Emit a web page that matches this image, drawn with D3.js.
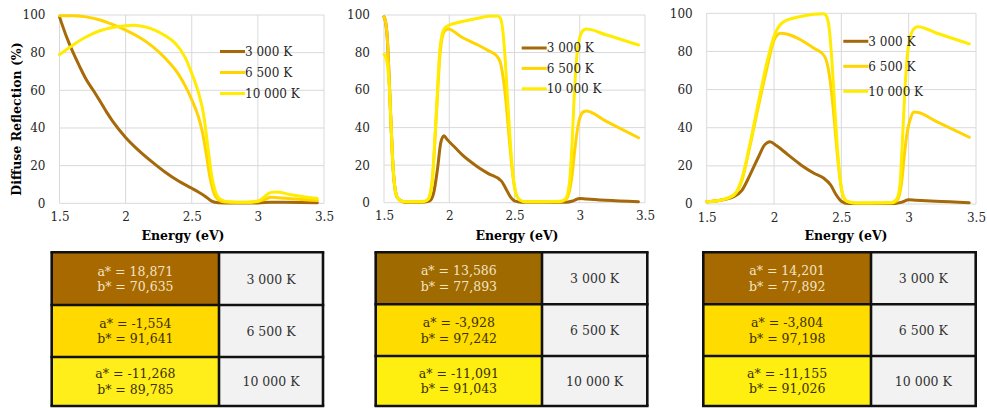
<!DOCTYPE html>
<html>
<head>
<meta charset="utf-8">
<script src="https://cdn.jsdelivr.net/npm/d3@7/dist/d3.min.js"></script>
<style>
  html, body { margin: 0; padding: 0; background: #ffffff; }
  svg { display: block; }
  text { font-family: "DejaVu Serif", serif; }
</style>
</head>
<body>
<svg id="fig" width="987" height="408"></svg>
<script>
// ---- data -------------------------------------------------------------
const energyTicks = [1.5, 2, 2.5, 3, 3.5];
const reflTicks = [0, 20, 40, 60, 80, 100];
const seriesNames = ["3 000 K", "6 500 K", "10 000 K"];

// Panel A: [energy (eV), diffuse reflection (%)]
const panelA_3000K = [[1.5,99],[1.55,89],[1.6,80.5],[1.65,73],[1.7,66],[1.76,59.5],[1.8,55],[1.86,48],[1.9,43.8],[2.0,35],[2.1,28],[2.2,22],[2.3,16.5],[2.4,11.8],[2.5,8],[2.55,6],[2.6,3.8],[2.65,1.2],[2.7,0.3],[2.8,0.1],[3.0,0.2],[3.1,0.6],[3.2,0.5],[3.45,0.3]];
const panelA_6500K = [[1.5,99.6],[1.6,99.6],[1.7,99],[1.8,97.5],[1.9,95],[2.0,92],[2.1,88.3],[2.2,83.5],[2.3,77],[2.4,68.5],[2.45,62.5],[2.5,55],[2.55,46],[2.58,38],[2.61,26],[2.64,13],[2.67,5],[2.7,2],[2.75,0.7],[2.85,0.5],[2.95,0.6],[3.0,1],[3.05,2],[3.1,3.2],[3.15,3],[3.25,2.4],[3.45,1.5]];
const panelA_10000K = [[1.5,79],[1.6,84],[1.7,88.3],[1.8,91.5],[1.9,93.4],[2.0,94.3],[2.06,94.5],[2.15,93.6],[2.22,92],[2.3,89],[2.375,85],[2.45,77.5],[2.5,69],[2.55,59],[2.59,47],[2.62,31],[2.65,15],[2.68,6],[2.72,2],[2.78,0.8],[2.9,0.5],[3.0,1.2],[3.05,3.5],[3.1,5.8],[3.15,6],[3.25,4.5],[3.45,2.5]];

// Panel B
const panelB_3000K = [[1.5,99],[1.51,97],[1.525,88],[1.54,65],[1.555,40],[1.57,18],[1.585,7],[1.6,3],[1.63,1],[1.66,0.3],[1.8,0.3],[1.85,1],[1.88,5],[1.91,18],[1.935,32],[1.96,35.7],[1.98,34],[2.05,29],[2.1,25.5],[2.2,20],[2.3,15.5],[2.4,11.5],[2.43,8],[2.47,3],[2.5,1],[2.55,0.3],[2.9,0.3],[2.95,1],[3.0,2.3],[3.05,2],[3.2,1.3],[3.45,0.5]];
const panelB_6500K = [[1.5,99],[1.51,97],[1.525,88],[1.54,65],[1.555,40],[1.57,18],[1.585,7],[1.6,3],[1.63,1],[1.66,0.5],[1.8,0.5],[1.84,2],[1.87,12],[1.9,45],[1.93,80],[1.96,91],[1.99,92.5],[2.1,88],[2.22,84],[2.3,81],[2.36,78.5],[2.39,75],[2.41,68],[2.43,57],[2.45,42],[2.47,26],[2.49,13],[2.51,5],[2.54,1.5],[2.58,0.5],[2.85,0.5],[2.89,1.5],[2.92,6],[2.94,14],[2.96,27],[2.98,38],[3.0,45],[3.03,48.5],[3.05,48.9],[3.2,43.5],[3.45,34.6]];
const panelB_10000K = [[1.5,79],[1.51,78],[1.525,74],[1.54,62],[1.555,40],[1.57,18],[1.585,7],[1.6,3],[1.63,1],[1.66,0.5],[1.8,0.5],[1.84,2],[1.87,12],[1.9,47],[1.93,83],[1.96,92.5],[1.99,94.3],[2.1,96.5],[2.2,98],[2.3,99.3],[2.37,99.5],[2.39,98.5],[2.41,92],[2.43,75],[2.45,52],[2.47,30],[2.49,14],[2.51,5],[2.54,1.5],[2.58,0.5],[2.85,0.8],[2.89,2],[2.92,10],[2.94,30],[2.96,60],[2.98,80],[3.0,88],[3.03,92],[3.05,92.5],[3.2,89.5],[3.45,84]];

// Panel C
const panelC_3000K = [[1.5,1.2],[1.6,2],[1.7,3.8],[1.76,7],[1.82,15],[1.88,24],[1.93,31],[1.97,32.7],[2.02,30.5],[2.1,26],[2.2,20.5],[2.3,16],[2.37,13.5],[2.42,10],[2.46,5],[2.5,1.5],[2.55,0.3],[2.9,0.3],[2.95,1],[3.0,2.2],[3.05,2],[3.2,1.4],[3.45,0.7]];
const panelC_6500K = [[1.5,1.2],[1.6,2],[1.7,4.5],[1.76,12],[1.82,30],[1.88,50],[1.95,72],[2.0,86],[2.05,89.5],[2.1,89],[2.2,86],[2.3,81.5],[2.37,78],[2.4,72],[2.43,57],[2.45,42],[2.47,26],[2.49,13],[2.51,5],[2.54,1.5],[2.6,0.5],[2.87,0.5],[2.91,1.5],[2.935,6],[2.95,13],[2.97,27],[2.99,38],[3.01,44],[3.04,48.2],[3.07,48],[3.2,43.5],[3.45,35]];
const panelC_10000K = [[1.5,1.2],[1.6,2],[1.7,4.7],[1.76,13],[1.82,31],[1.88,52],[1.95,75],[2.0,88],[2.07,95.5],[2.19,98.2],[2.3,99.5],[2.37,99.8],[2.39,98.5],[2.41,92],[2.43,75],[2.45,52],[2.47,30],[2.49,14],[2.51,5],[2.54,1.5],[2.6,0.5],[2.87,0.8],[2.91,2.5],[2.935,10],[2.95,28],[2.97,57],[2.99,78],[3.01,87],[3.04,92],[3.07,93],[3.2,89.8],[3.45,84]];

// CIELAB a*, b* per colour temperature
const aStarA = ["18,871", "-1,554", "-11,268"];
const bStarA = ["70,635", "91,641", "89,785"];
const aStarB = ["13,586", "-3,928", "-11,091"];
const bStarB = ["77,893", "97,242", "91,043"];
const aStarC = ["14,201", "-3,804", "-11,155"];
const bStarC = ["77,892", "97,198", "91,026"];

// ---- styling / layout -------------------------------------------------
const lineColors = ["#A5690A", "#FFD400", "#FFEC00"];
const gridColor = "#D9D9D9";
const textColor = "#262626";

const panels = [
  { series: [panelA_3000K, panelA_6500K, panelA_10000K], a: aStarA, b: bStarA,
    plot: { x0: 59.5, x1: 324, y0: 15, y1: 203.3 }, xTitleX: 183, showYTitle: true,
    legend: { x: 220, y0: 51.5, dy: 21 },
    table: { x0: 51.7, xm: 219, x1: 323, rows: [252.3, 305, 357, 406] },
    cellFill: ["#A86900", "#FFD900", "#FFEE1A"] },
  { series: [panelB_3000K, panelB_6500K, panelB_10000K], a: aStarB, b: bStarB,
    plot: { x0: 384, x1: 645, y0: 15, y1: 202.7 }, xTitleX: 517, showYTitle: false,
    legend: { x: 521.7, y0: 48, dy: 20.4 },
    table: { x0: 375.7, xm: 542, x1: 647.3, rows: [252.3, 304.3, 356, 406] },
    cellFill: ["#9F6A00", "#FFDC00", "#FFEF10"] },
  { series: [panelC_3000K, panelC_6500K, panelC_10000K], a: aStarC, b: bStarC,
    plot: { x0: 706.7, x1: 976, y0: 13.3, y1: 204 }, xTitleX: 846, showYTitle: false,
    legend: { x: 843.3, y0: 41.3, dy: 25 },
    table: { x0: 703.3, xm: 871, x1: 975.7, rows: [252.3, 304.3, 356, 406] },
    cellFill: ["#A66A00", "#FFDC00", "#FFEF10"] }
];

const svg = d3.select("#fig");

panels.forEach((p) => {
  const x = d3.scaleLinear().domain([1.5, 3.5]).range([p.plot.x0, p.plot.x1]);
  const y = d3.scaleLinear().domain([0, 100]).range([p.plot.y1, p.plot.y0]);
  const g = svg.append("g");

  // gridlines
  g.append("g").selectAll("line.h").data(reflTicks).join("line")
    .attr("x1", p.plot.x0).attr("x2", p.plot.x1)
    .attr("y1", d => y(d)).attr("y2", d => y(d))
    .attr("stroke", gridColor).attr("stroke-width", 1);
  g.append("g").selectAll("line.v").data(energyTicks).join("line")
    .attr("x1", d => x(d)).attr("x2", d => x(d))
    .attr("y1", p.plot.y0).attr("y2", p.plot.y1)
    .attr("stroke", gridColor).attr("stroke-width", 1);

  // y axis labels
  const yAxis = d3.axisLeft(y).tickValues(reflTicks).tickSize(0).tickPadding(14);
  const ya = g.append("g").attr("transform", `translate(${p.plot.x0},0)`).call(yAxis);
  ya.select(".domain").remove();
  ya.selectAll("text").attr("font-family", "DejaVu Serif").attr("font-size", 12)
    .attr("fill", textColor);

  // x axis labels
  const xAxis = d3.axisBottom(x).tickValues(energyTicks).tickSize(0).tickPadding(9)
    .tickFormat(d => String(d));
  const xa = g.append("g").attr("transform", `translate(0,${p.plot.y1})`).call(xAxis);
  xa.select(".domain").remove();
  xa.selectAll("text").attr("font-family", "DejaVu Serif").attr("font-size", 12)
    .attr("fill", textColor);

  // axis titles
  g.append("text").attr("x", p.xTitleX).attr("y", 240).attr("text-anchor", "middle")
    .attr("font-size", 12.5).attr("font-weight", "bold").attr("fill", "#000")
    .text("Energy (eV)");
  if (p.showYTitle) {
    g.append("text").attr("transform", "translate(21,119) rotate(-90)")
      .attr("text-anchor", "middle").attr("font-family", "Liberation Serif")
      .attr("font-size", 12.5).attr("font-weight", "bold")
      .attr("fill", "#000").text("Diffuse Reflection (%)");
  }

  // curves
  const line = d3.line().x(d => x(d[0])).y(d => y(d[1])).curve(d3.curveMonotoneX);
  g.append("g").selectAll("path").data(p.series).join("path")
    .attr("d", line).attr("fill", "none")
    .attr("stroke", (d, i) => lineColors[i]).attr("stroke-width", 3)
    .attr("stroke-linejoin", "round").attr("stroke-linecap", "round");

  // legend
  const lg = g.append("g");
  seriesNames.forEach((name, i) => {
    const ly = p.legend.y0 + i * p.legend.dy;
    lg.append("line").attr("x1", p.legend.x).attr("x2", p.legend.x + 25)
      .attr("y1", ly).attr("y2", ly).attr("stroke", lineColors[i]).attr("stroke-width", 3);
    lg.append("text").attr("x", p.legend.x + 25).attr("y", ly).attr("dy", "0.35em")
      .attr("font-size", 12).attr("fill", textColor).text(name);
  });

  // colour table
  const t = p.table;
  const tg = g.append("g");
  for (let i = 0; i < 3; i++) {
    const ry0 = t.rows[i], ry1 = t.rows[i + 1], cy = (ry0 + ry1) / 2;
    tg.append("rect").attr("x", t.x0).attr("y", ry0).attr("width", t.xm - t.x0)
      .attr("height", ry1 - ry0).attr("fill", p.cellFill[i]);
    tg.append("rect").attr("x", t.xm).attr("y", ry0).attr("width", t.x1 - t.xm)
      .attr("height", ry1 - ry0).attr("fill", "#F2F2F2");
    const tc = i === 0 ? "#F3E4C6" : "#3A3000";
    const cx = (t.x0 + t.xm) / 2;
    tg.append("text").attr("x", cx).attr("y", cy - 7.5).attr("dy", "0.35em")
      .attr("text-anchor", "middle").attr("font-size", 12.5).attr("fill", tc)
      .text(`a* = ${p.a[i]}`);
    tg.append("text").attr("x", cx).attr("y", cy + 8).attr("dy", "0.35em")
      .attr("text-anchor", "middle").attr("font-size", 12.5).attr("fill", tc)
      .text(`b* = ${p.b[i]}`);
    tg.append("text").attr("x", (t.xm + t.x1) / 2).attr("y", cy + 0.5).attr("dy", "0.35em")
      .attr("text-anchor", "middle").attr("font-size", 12.5).attr("fill", "#333")
      .text(seriesNames[i]);
  }
  // table rules
  const rules = tg.append("g").attr("stroke", "#111").attr("stroke-width", 2.6);
  t.rows.forEach(ry => rules.append("line").attr("x1", t.x0 - 1.3).attr("x2", t.x1 + 1.3)
    .attr("y1", ry).attr("y2", ry));
  [t.x0, t.xm, t.x1].forEach(rx => rules.append("line").attr("x1", rx).attr("x2", rx)
    .attr("y1", t.rows[0]).attr("y2", t.rows[3]));
});
</script>
</body>
</html>
